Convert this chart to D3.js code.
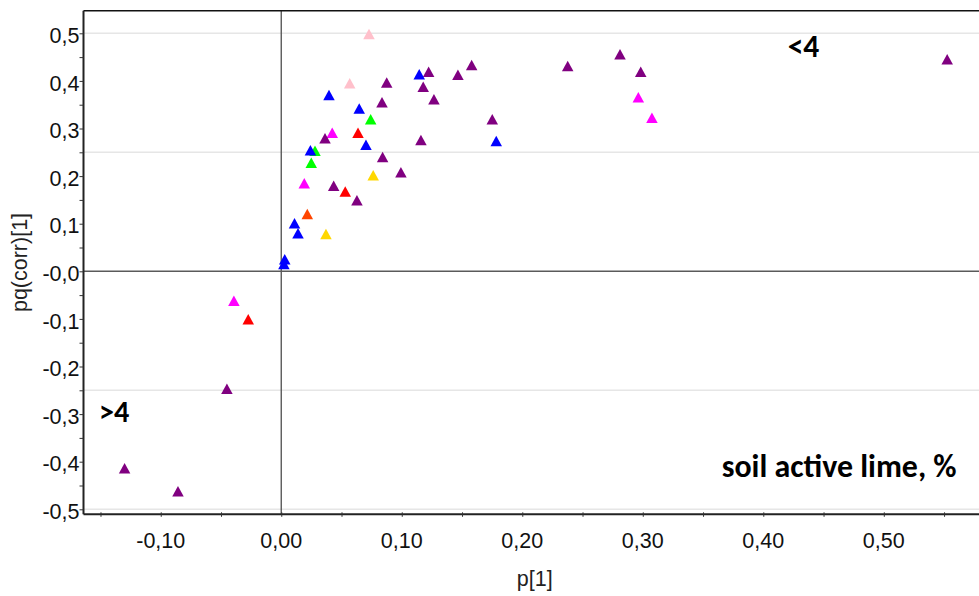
<!DOCTYPE html>
<html>
<head>
<meta charset="utf-8">
<script src="https://cdn.jsdelivr.net/npm/d3@7"></script>
<style>
  html, body { margin: 0; padding: 0; background: #fff; }
  svg { display: block; }
</style>
</head>
<body>
<svg id="chart" width="979" height="596"></svg>
<script>
// ---------- data (p[1], pq(corr)[1]) ----------
const pointsBlue = [[0.1145,0.4139],[0.0396,0.3704],[0.0647,0.342],[0.0703,0.266],[0.1784,0.2737],
  [0.0242,0.2542],[0.011,0.1008],[0.0139,0.0798],[0.0029,0.0252],[0.0022,0.0153]];
const pointsPink = [[0.0728,0.4985],[0.0568,0.395]];
const pointsPurple = [[0.1223,0.4193],[0.1466,0.413],[0.158,0.4334],[0.0875,0.3966],[0.1178,0.3878],
  [0.0836,0.3553],[0.1267,0.3613],[0.1751,0.3193],[0.0363,0.2796],[0.1159,0.2758],[0.0841,0.2401],
  [0.0993,0.208],[0.0435,0.1798],[0.0628,0.1492],[0.2377,0.4313],[0.2811,0.4559],[0.2983,0.4193],
  [0.5526,0.4456],[-0.0451,-0.2466],[-0.13,-0.4139],[-0.0857,-0.4622]];
const pointsMagenta = [[0.0423,0.2912],[0.0191,0.1849],[0.2963,0.3655],[0.3076,0.3227],[-0.0393,-0.0618]];
const pointsGreen = [[0.0742,0.3193],[0.028,0.2534],[0.0249,0.2282]];
const pointsRed = [[0.0637,0.2912],[0.0531,0.1676],[-0.0274,-0.1008]];
const pointsOrange = [[0.0216,0.1204]];
const pointsYellow = [[0.0763,0.2017],[0.0371,0.0784]];

const seriesNames = ["pink","yellow","orange","green","magenta","red","purple","blue"];
const seriesColors = ["#ffc0cb","#ffd700","#ff4500","#00ff00","#ff00ff","#ff0000","#800080","#0000ff"];
const seriesPoints = [pointsPink,pointsYellow,pointsOrange,pointsGreen,pointsMagenta,pointsRed,pointsPurple,pointsBlue];

const xTicks = [-0.10,0.00,0.10,0.20,0.30,0.40,0.50];
const xTickLabels = ["-0,10","0,00","0,10","0,20","0,30","0,40","0,50"];
const yTicks = [-0.5,-0.4,-0.3,-0.2,-0.1,0,0.1,0.2,0.3,0.4,0.5];
const yTickLabels = ["-0,5","-0,4","-0,3","-0,2","-0,1","-0,0","0,1","0,2","0,3","0,4","0,5"];
const yGrid = [-0.5,-0.25,0.25,0.5];
const xMinor = d3.range(-15,56,5).map(v => v/100);
const yMinor = d3.range(-50,51,5).map(v => v/100);
const xTitle = "p[1]";
const yTitle = "pq(corr)[1]";
const annotations = [
  {text:"<4", x:787.7, y:57.3, w:31.6},
  {text:">4", x:99, y:421.7, w:30.3},
  {text:"soil active lime, %", x:721.7, y:477.3, w:235}
];

// ---------- layout ----------
const L = 83.5, R = 979, T = 10.7, B = 514.3;
const svg = d3.select("#chart");
const x = d3.scaleLinear().domain([-0.1641, 0.579]).range([L, R]);
const y = d3.scaleLinear().domain([-0.5105, 0.5475]).range([B, T]);
const tickFont = "'Liberation Sans', Arial, sans-serif";

// grid
svg.append("g").selectAll("line").data(yGrid).join("line")
  .attr("x1", L).attr("x2", R)
  .attr("y1", d => y(d)).attr("y2", d => y(d))
  .attr("stroke", "#e6e6e6").attr("stroke-width", 1.5);

// zero lines
svg.append("line").attr("x1", x(0)).attr("x2", x(0)).attr("y1", T).attr("y2", B)
  .attr("stroke", "#5a5a5a").attr("stroke-width", 1.4);
svg.append("line").attr("x1", L).attr("x2", R).attr("y1", y(0)).attr("y2", y(0))
  .attr("stroke", "#5a5a5a").attr("stroke-width", 1.4);

// top frame
svg.append("line").attr("x1", L).attr("x2", R).attr("y1", T).attr("y2", T)
  .attr("stroke", "#111").attr("stroke-width", 1.6);

// x axis
const xAxisG = svg.append("g").attr("transform", `translate(0,${B})`)
  .call(d3.axisBottom(x).tickValues(xMinor).tickSize(4).tickSizeOuter(0).tickFormat(""));
xAxisG.select(".domain").attr("stroke", "#222").attr("stroke-width", 2).attr("d", `M${L},0H${R}`);
xAxisG.selectAll(".tick line").attr("stroke", "#333").attr("y1", -2).attr("y2", 2.5);
svg.append("g").selectAll("text").data(xTicks).join("text")
  .attr("x", d => x(d)).attr("y", 548.3)
  .attr("text-anchor", "middle")
  .style("font-family", tickFont).style("font-size", "21.5px").attr("fill", "#111")
  .text((d, i) => xTickLabels[i]);

// y axis
const yAxisG = svg.append("g").attr("transform", `translate(${L},0)`)
  .call(d3.axisLeft(y).tickValues(yMinor).tickSize(4).tickSizeOuter(0).tickFormat(""));
yAxisG.select(".domain").attr("stroke", "#222").attr("stroke-width", 2).attr("d", `M0,${T}V${B}`);
yAxisG.selectAll(".tick line").attr("stroke", "#333");
svg.append("g").selectAll("text").data(yTicks).join("text")
  .attr("x", 79.5).attr("y", d => y(d) + 9.7)
  .attr("text-anchor", "end")
  .style("font-family", tickFont).style("font-size", "21.5px").attr("fill", "#111")
  .text((d, i) => yTickLabels[i]);

// titles
svg.append("text").attr("x", 534.7).attr("y", 586)
  .attr("text-anchor", "middle")
  .style("font-family", tickFont).style("font-size", "21.5px").attr("fill", "#222")
  .text(xTitle);
svg.append("text").attr("transform", `translate(27,${(T + B) / 2}) rotate(-90)`)
  .attr("text-anchor", "middle")
  .style("font-family", tickFont).style("font-size", "21.5px").attr("fill", "#222")
  .text(yTitle);

// points
const tri = (w, h) => `M0,${-h/2}L${w/2},${h/2}L${-w/2},${h/2}Z`;
const flat = [];
seriesPoints.forEach((pts, si) => pts.forEach(p => flat.push({x: p[0], y: p[1], c: seriesColors[si], s: seriesNames[si]})));
svg.append("g").selectAll("path").data(flat).join("path")
  .attr("d", tri(11.5, 10.5))
  .attr("transform", d => `translate(${x(d.x)},${y(d.y)})`)
  .attr("fill", d => d.c);

// annotations (bold, sized to fit measured widths)
annotations.forEach(a => {
  const t = svg.append("text").attr("x", a.x).attr("y", a.y)
    .style("font-family", "Carlito, Calibri, Lato, sans-serif")
    .style("font-weight", "bold").style("font-size", "30px").attr("fill", "#000")
    .text(a.text);
  const w = t.node().getComputedTextLength();
  t.style("font-size", (30 * a.w / w).toFixed(2) + "px");
});
</script>
</body>
</html>
